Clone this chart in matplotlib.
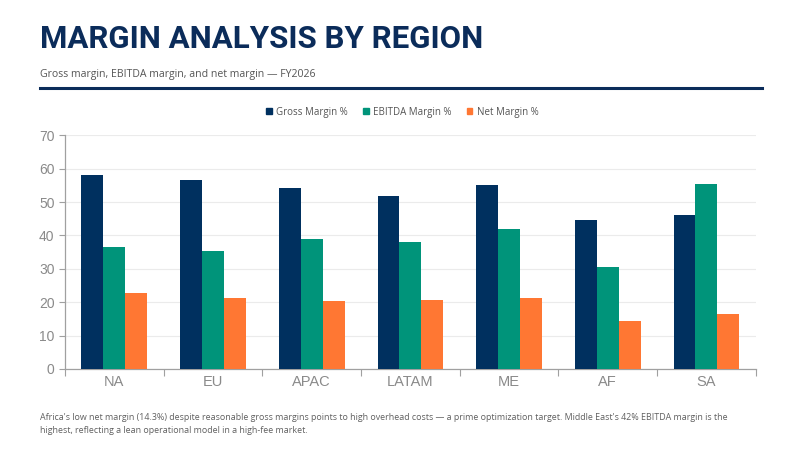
import matplotlib
matplotlib.use("Agg")
import matplotlib.pyplot as plt
import numpy as np
from matplotlib.ticker import FixedLocator
from matplotlib.lines import Line2D

regions = ["NA", "EU", "APAC", "LATAM", "ME", "AF", "SA"]
gross_margin = [58.1, 56.6, 54.1, 51.8, 55.1, 44.6, 46.1]
ebitda_margin = [36.6, 35.3, 38.9, 38.1, 41.9, 30.6, 55.4]
net_margin = [22.7, 21.3, 20.4, 20.7, 21.3, 14.3, 16.5]
series_names = ["Gross Margin %", "EBITDA Margin %", "Net Margin %"]
y_ticks = [0, 10, 20, 30, 40, 50, 60, 70]

title = "MARGIN ANALYSIS BY REGION"
subtitle = "Gross margin, EBITDA margin, and net margin \u2014 FY2026"
footer = ("Africa's low net margin (14.3%) despite reasonable gross margins points to high overhead costs \u2014 a prime optimization target. Middle East's 42% EBITDA margin is the\n"
          "highest, reflecting a lean operational model in a high-fee market.")

colors = ["#00305F", "#00947A", "#FF7733"]
navy = "#0B2C5A"

fig = plt.figure(figsize=(8, 4.5), dpi=100)
fig.patch.set_facecolor("white")

ax = fig.add_axes([0.08125, 0.18, 0.8634, 0.5193])
x = np.arange(len(regions))
w = 0.222
for k, vals in enumerate([gross_margin, ebitda_margin, net_margin]):
    ax.bar(x + (k - 1) * w, vals, width=w, color=colors[k], zorder=3, linewidth=0)

ax.set_xlim(-0.5, len(regions) - 0.5)
ax.set_ylim(0, 70)
ax.set_yticks(y_ticks)
ax.yaxis.grid(True, color="#EBEBEB", linewidth=0.8, zorder=0)
ax.set_xticks(x)
ax.set_xticklabels(regions)
ax.xaxis.set_minor_locator(FixedLocator(np.arange(-0.5, len(regions), 1.0)))
ax.tick_params(axis="x", which="major", length=0, labelsize=10.5, labelcolor="#8A8A8A", pad=4)
ax.tick_params(axis="x", which="minor", length=5, color="#A0A0A0", width=0.8)
ax.tick_params(axis="y", length=4, color="#A0A0A0", labelsize=10, labelcolor="#8A8A8A", width=0.8)
for lab in ax.get_xticklabels() + ax.get_yticklabels():
    lab.set_family("Liberation Sans")
for s in ["top", "right"]:
    ax.spines[s].set_visible(False)
for s in ["left", "bottom"]:
    ax.spines[s].set_color("#A0A0A0")
    ax.spines[s].set_linewidth(0.9)

# Title / subtitle / rule
fig.text(40 / 800, 1 - 39 / 450, title, fontsize=22.5, fontweight="bold", color=navy,
         family="Roboto", va="center", ha="left")
fig.text(40 / 800, 1 - 74 / 450, subtitle, fontsize=7.6, color="#555555",
         family="Open Sans", va="center", ha="left")
fig.add_artist(Line2D([40 / 800, 762 / 800], [1 - 88 / 450] * 2, color=navy, linewidth=2.2,
                      transform=fig.transFigure))

# Legend
handles = [plt.Rectangle((0, 0), 1, 1, color=c) for c in colors]
leg = fig.legend(handles, series_names, loc="center", bbox_to_anchor=(0.503, 1 - 112 / 450),
                 ncol=3, frameon=False, handlelength=0.6, handleheight=0.6,
                 handletextpad=0.5, columnspacing=1.5, prop={"family": "Open Sans", "size": 7})
for t in leg.get_texts():
    t.set_color("#555555")

# Footer
fig.text(40 / 800, 1 - 424 / 450, footer, fontsize=6.4, color="#606060",
         family="Open Sans", va="center", ha="left", linespacing=1.6)

fig.savefig("out.png", dpi=100, facecolor="white")
